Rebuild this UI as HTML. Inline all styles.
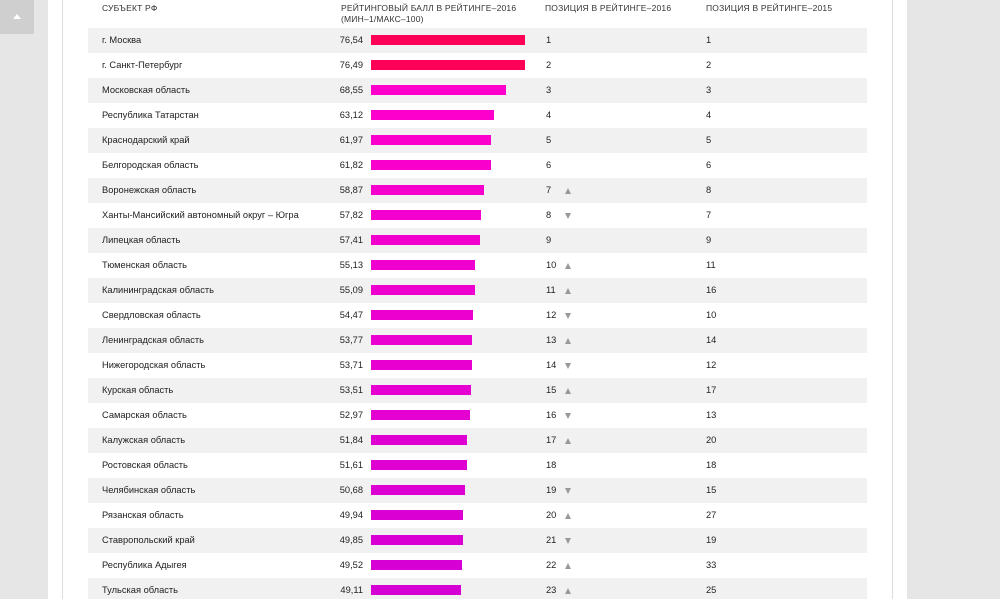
<!DOCTYPE html>
<html><head><meta charset="utf-8"><style>
html,body{margin:0;width:1000px;height:599px;overflow:hidden}
body{background:#e6e6e6;font-family:"Liberation Sans","DejaVu Sans",sans-serif;position:relative}
.lp{position:absolute;left:0;top:0;width:48px;height:599px;background:#e6e6e6}
.btn{position:absolute;left:0;top:0;width:34px;height:34px;background:#cfcfcf}
.btn:after{content:"";position:absolute;left:13px;top:14px;border-left:4px solid transparent;border-right:4px solid transparent;border-bottom:5px solid #fff}
.wrap{position:absolute;left:48px;top:0;width:859px;height:599px;background:#fff}
.inner{position:absolute;left:62px;top:0;width:829px;height:599px;border-left:1px solid #ddd;border-right:1px solid #ddd;background:#fff}
.h{position:absolute;font-size:8.5px;color:#333;top:3px;letter-spacing:.2px;line-height:11px}
.row{position:absolute;left:88px;width:779px;height:25px;font-size:9.3px;color:#222}
.row.s{background:#f1f1f1}
.row span{position:absolute;top:7px;line-height:11px}
.bar{position:absolute;left:283px;top:7px;height:10px}
.ar{position:absolute;left:477px;top:10px;width:0;height:0;border-left:3.5px solid transparent;border-right:3.5px solid transparent}
.up{border-bottom:6px solid #999}
.dn{border-top:6px solid #999}
</style></head><body>
<div class="wrap"></div>
<div class="inner"></div>
<div class="lp"><div class="btn"></div></div>
<div class="h" style="left:102px">СУБЪЕКТ РФ</div>
<div class="h" style="left:341px">РЕЙТИНГОВЫЙ БАЛЛ В РЕЙТИНГЕ–2016<br>(МИН–1/МАКС–100)</div>
<div class="h" style="left:545px">ПОЗИЦИЯ В РЕЙТИНГЕ–2016</div>
<div class="h" style="left:706px">ПОЗИЦИЯ В РЕЙТИНГЕ–2015</div>
<div id="t"></div>
<script>
var d=[["г. Москва","76,54",1,0,1],["г. Санкт-Петербург","76,49",2,0,2],["Московская область","68,55",3,0,3],["Республика Татарстан","63,12",4,0,4],["Краснодарский край","61,97",5,0,5],["Белгородская область","61,82",6,0,6],["Воронежская область","58,87",7,1,8],["Ханты-Мансийский автономный округ – Югра","57,82",8,-1,7],["Липецкая область","57,41",9,0,9],["Тюменская область","55,13",10,1,11],["Калининградская область","55,09",11,1,16],["Свердловская область","54,47",12,-1,10],["Ленинградская область","53,77",13,1,14],["Нижегородская область","53,71",14,-1,12],["Курская область","53,51",15,1,17],["Самарская область","52,97",16,-1,13],["Калужская область","51,84",17,1,20],["Ростовская область","51,61",18,0,18],["Челябинская область","50,68",19,-1,15],["Рязанская область","49,94",20,1,27],["Ставропольский край","49,85",21,-1,19],["Республика Адыгея","49,52",22,1,33],["Тульская область","49,11",23,1,25]];
var h="";
d.forEach(function(r,i){
var v=parseFloat(r[1].replace(",","."));var w=Math.round(2.333*v-24.6);
var c;if(i<2)c="#ff0058";else{var f=(i-2)/20;var R=Math.round(255-f*(255-212)),B=Math.round(204+f*(212-204));c="rgb("+R+",0,"+B+")";}
var a=r[3]==1?'<div class="ar up"></div>':r[3]==-1?'<div class="ar dn"></div>':'';
h+='<div class="row'+(i%2==0?' s':'')+'" style="top:'+(28+25*i)+'px"><span style="left:14px">'+r[0]+'</span><span style="right:504px">'+r[1]+'</span><div class="bar" style="width:'+w+'px;background:'+c+'"></div><span style="left:458px">'+r[2]+'</span>'+a+'<span style="left:618px">'+r[4]+'</span></div>';
});
document.getElementById("t").innerHTML=h;
</script>
</body></html>
